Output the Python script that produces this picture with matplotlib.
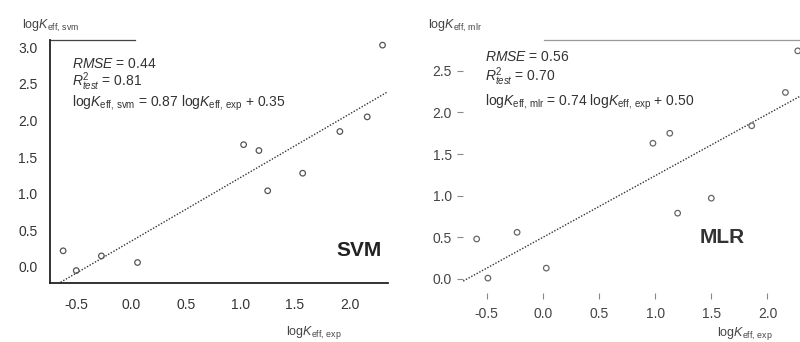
import matplotlib
matplotlib.use("Agg")
import matplotlib.pyplot as plt
from matplotlib.lines import Line2D
import numpy as np

plt.rcParams["font.family"] = ["Liberation Sans", "DejaVu Sans"]
plt.rcParams["mathtext.fontset"] = "custom"
plt.rcParams["mathtext.rm"] = "Liberation Sans"
plt.rcParams["mathtext.it"] = "Liberation Sans:italic"

# SVM panel data (experimental vs predicted)
svm_exp = [-0.62, -0.50, -0.27, 0.06, 1.03, 1.17, 1.25, 1.57, 1.91, 2.16, 2.30]
svm_pred = [0.22, -0.05, 0.15, 0.06, 1.67, 1.59, 1.04, 1.28, 1.85, 2.05, 3.03]
svm_fit = (0.87, 0.35)

# MLR panel data
mlr_exp = [-0.59, -0.49, -0.23, 0.03, 0.98, 1.13, 1.20, 1.50, 1.86, 2.16, 2.27]
mlr_pred = [0.48, 0.01, 0.56, 0.13, 1.63, 1.75, 0.79, 0.97, 1.84, 2.24, 2.74]
mlr_fit = (0.74, 0.50)

xticks = [-0.5, 0.0, 0.5, 1.0, 1.5, 2.0]

fig = plt.figure(figsize=(8, 3.42), dpi=100)

# ---- left: SVM ----
ax1 = fig.add_axes([0.0625, 0.1725, 0.4225, 0.7105])
ax1.set_xlim(-0.74, 2.35)
ax1.set_ylim(-0.22, 3.1)
ax1.scatter(svm_exp, svm_pred, s=16, facecolors="none", edgecolors="#555555", linewidths=0.9, zorder=3)
xx = np.array(ax1.get_xlim())
ax1.plot(xx, svm_fit[0] * xx + svm_fit[1], linestyle=(0, (1, 1.2)), color="#333333", linewidth=1.0)
ax1.set_xticks(xticks)
ax1.set_yticks([0.0, 0.5, 1.0, 1.5, 2.0, 2.5, 3.0])
ax1.xaxis.set_major_formatter(plt.FormatStrFormatter("%.1f"))
ax1.yaxis.set_major_formatter(plt.FormatStrFormatter("%.1f"))
ax1.tick_params(length=0, labelsize=10, labelcolor="#333333")
ax1.tick_params(axis="x", pad=11)
ax1.tick_params(axis="y", pad=9)
for s in ["top", "right"]:
    ax1.spines[s].set_visible(False)
for s in ["left", "bottom"]:
    ax1.spines[s].set_color("#222222")
    ax1.spines[s].set_linewidth(1.3)
ax1.add_line(Line2D([0, 0.25], [1, 1], transform=ax1.transAxes, color="#444444", linewidth=0.9, clip_on=False))
ax1.text(0.065, 0.9, r"$RMSE$ = 0.44", transform=ax1.transAxes, fontsize=10, color="#333333", va="center")
ax1.text(0.065, 0.828, r"$R^2_{\it test}$ = 0.81", transform=ax1.transAxes, fontsize=10, color="#333333", va="center")
ax1.text(0.065, 0.738, r"log$K_{\rm eff,\,svm}$ = 0.87 log$K_{\rm eff,\,exp}$ + 0.35",
         transform=ax1.transAxes, fontsize=10, color="#333333", va="center")
ax1.text(0.915, 0.135, "SVM", transform=ax1.transAxes, fontsize=15, fontweight="bold",
         color="#222222", ha="center", va="center")
fig.text(0.027, 0.925, r"log$K_{\rm eff,\,svm}$", fontsize=9, color="#444444", va="center")
fig.text(0.358, 0.027, r"log$K_{\rm eff,\,exp}$", fontsize=9, color="#444444", va="center")

# ---- right: MLR ----
ax2 = fig.add_axes([0.579, 0.143, 0.421, 0.74])
ax2.set_xlim(-0.71, 2.29)
ax2.set_ylim(-0.17, 2.87)
ax2.scatter(mlr_exp, mlr_pred, s=16, facecolors="none", edgecolors="#666666", linewidths=0.9, zorder=3)
xx = np.array(ax2.get_xlim())
ax2.plot(xx, mlr_fit[0] * xx + mlr_fit[1], linestyle=(0, (1, 1.2)), color="#333333", linewidth=1.0)
ax2.set_xticks(xticks)
ax2.set_yticks([0.0, 0.5, 1.0, 1.5, 2.0, 2.5])
ax2.xaxis.set_major_formatter(plt.FormatStrFormatter("%.1f"))
ax2.yaxis.set_major_formatter(plt.FormatStrFormatter("%.1f"))
ax2.tick_params(length=4, width=0.8, color="#888888", labelsize=10, labelcolor="#444444", pad=4)
ax2.tick_params(axis="x", pad=6)
for s in ["top", "right", "left", "bottom"]:
    ax2.spines[s].set_visible(False)
ax2.add_line(Line2D([0.24, 1], [1, 1], transform=ax2.transAxes, color="#999999", linewidth=0.9, clip_on=False))
ax2.text(0.065, 0.932, r"$RMSE$ = 0.56", transform=ax2.transAxes, fontsize=10, color="#333333", va="center")
ax2.text(0.065, 0.855, r"$R^2_{\it test}$ = 0.70", transform=ax2.transAxes, fontsize=10, color="#333333", va="center")
ax2.text(0.065, 0.752, r"log$K_{\rm eff,\,mlr}$ = 0.74 log$K_{\rm eff,\,exp}$ + 0.50",
         transform=ax2.transAxes, fontsize=10, color="#333333", va="center")
ax2.text(0.77, 0.22, "MLR", transform=ax2.transAxes, fontsize=15, fontweight="bold",
         color="#333333", ha="center", va="center")
fig.text(0.535, 0.925, r"log$K_{\rm eff,\,mlr}$", fontsize=9, color="#444444", va="center")
fig.text(0.896, 0.025, r"log$K_{\rm eff,\,exp}$", fontsize=9, color="#444444", va="center")

fig.savefig("out.png", dpi=100)
